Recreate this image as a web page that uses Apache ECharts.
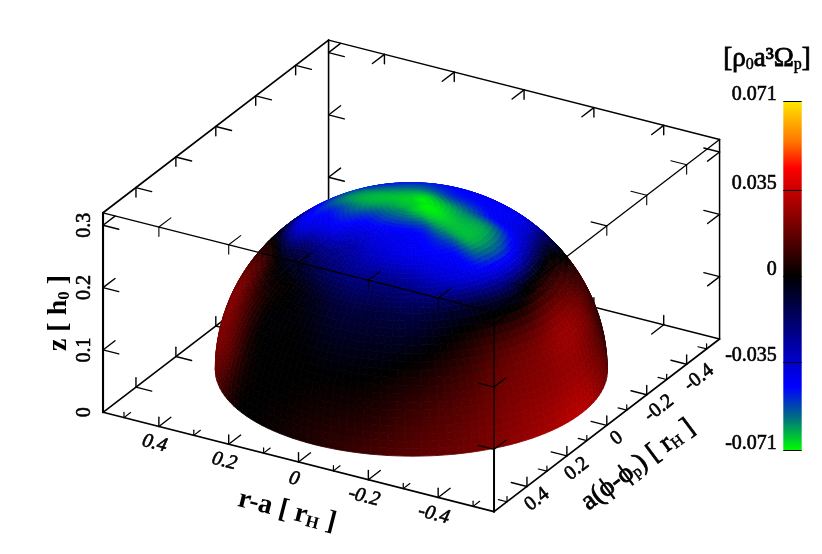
<!DOCTYPE html>
<html>
<head>
<meta charset="utf-8">
<script src="https://cdn.jsdelivr.net/npm/echarts@6/dist/echarts.min.js"></script>
<style>
html, body { margin: 0; padding: 0; background: #fff; }
#chart { width: 822px; height: 554px; }
</style>
</head>
<body>
<div id="chart"></div>
<script>
// tick labels
const xTicks = [0.4, 0.2, 0, -0.2, -0.4]
const xMinorTicks = [0.5, 0.3, 0.1, -0.1, -0.3, -0.5]
const yTicks = [0.4, 0.2, 0, -0.2, -0.4]
const yMinorTicks = [0.5, 0.3, 0.1, -0.1, -0.3, -0.5]
const zTicks = [0, 0.1, 0.2, 0.3]
const colorTicks = [-0.071, -0.035, 0, 0.035, 0.071]

// colour scale
const paletteValues = [-0.071, -0.0575, -0.045, -0.035, 0, 0.035, 0.044, 0.055, 0.071]
const paletteColors = [[0, 255, 0], [0, 110, 130], [0, 0, 255], [0, 0, 205], [0, 0, 0], [200, 0, 0], [255, 0, 0], [255, 120, 0], [255, 230, 0]]

const domeLat = [0, 15, 30, 45, 55, 65, 75, 85, 90]
const lat0 = [0.0155, 0.024, 0.032, 0.029, 0.024, 0.019, 0.0155, 0.0105, 0.006, 0.002, 0, 0.01, 0.019, 0.02, 0.02, 0.02, 0.02, 0.02, 0.02, 0.02, 0.02, 0.015, 0.015, 0.012]
const lat15 = [0.009, 0.019, 0.026, 0.024, 0.021, 0.015, 0.0095, 0.004, 0.002, 0, 0.002, 0.017, 0.022, 0.02, 0.02, 0.02, 0.02, 0.02, 0.02, 0.02, 0.01, 0.01, 0.01, 0.01]
const lat30 = [0.012, 0.021, 0.025, 0.019, 0.014, 0.006, 0, -0.0026, -0.0026, 0, 0, 0.012, 0.021, 0.017, 0.01, 0.01, 0, 0, 0, 0, 0, 0.005, 0.005, 0.009]
const lat45 = [-0.003, 0.002, 0, -0.007, -0.007, -0.0085, -0.012, -0.0105, -0.0105, -0.005, -0.001, 0, 0.005, -0.002, -0.012, -0.02, -0.03, -0.03, -0.03, -0.03, -0.03, -0.03, -0.034, -0.017]
const lat55 = [-0.035, -0.036, -0.043, -0.042, -0.038, -0.033, -0.026, -0.022, -0.022, -0.019, -0.0155, -0.017, -0.031, -0.04, -0.041, -0.047, -0.05, -0.05, -0.05, -0.05, -0.05, -0.042, -0.042, -0.041]
const lat65 = [-0.045, -0.058, -0.0625, -0.061, -0.047, -0.044, -0.041, -0.038, -0.034, -0.03, -0.034, -0.041, -0.044, -0.048, -0.057, -0.058, -0.052, -0.048, -0.048, -0.048, -0.046, -0.044, -0.044, -0.044]
const lat75 = [-0.058, -0.062, -0.065, -0.065, -0.059, -0.049, -0.045, -0.044, -0.044, -0.045, -0.046, -0.05, -0.056, -0.061, -0.064, -0.063, -0.059, -0.056, -0.055, -0.054, -0.052, -0.05, -0.05, -0.053]
const lat85 = [-0.069, -0.07, -0.07, -0.069, -0.067, -0.065, -0.063, -0.061, -0.06, -0.06, -0.061, -0.062, -0.063, -0.064, -0.065, -0.066, -0.066, -0.066, -0.066, -0.067, -0.068, -0.069, -0.069, -0.069]
const latPole = [-0.066, -0.066, -0.066, -0.066, -0.066, -0.066, -0.066, -0.066, -0.066, -0.066, -0.066, -0.066, -0.066, -0.066, -0.066, -0.066, -0.066, -0.066, -0.066, -0.066, -0.066, -0.066, -0.066, -0.066]
const domeRows = [lat0, lat15, lat30, lat45, lat55, lat65, lat75, lat85, latPole]

// box and projection
const xMax = 0.56, yMax = 0.565, zMax = 0.32
const center = [411.3, 375.65]
const xVec = [-349.1, -88.75]
const yVec = [-199.6, 152.8]
const zVec = -623.4
const domeRadius = 0.4875, domeHeight = 0.267, domeBase = 0.009
const viewAz = 210.15
const viewNormal = [166.4, 86.1]
const SUB = 6

function project(x, y, z) {
    return [
        center[0] + x * xVec[0] + y * yVec[0],
        center[1] + x * xVec[1] + y * yVec[1] + z * zVec
    ]
}
function valueColor(v) {
    let i = 0
    while (i < paletteValues.length - 2 && v > paletteValues[i + 1]) i++
    let f = (v - paletteValues[i]) / (paletteValues[i + 1] - paletteValues[i])
    f = Math.max(0, Math.min(1, f))
    const a = paletteColors[i], b = paletteColors[i + 1]
    return 'rgb(' + [0, 1, 2].map((k) => Math.round(a[k] + (b[k] - a[k]) * f)).join(',') + ')'
}
function domePoint(lat, t) {
    const la = lat * Math.PI / 180
    const L = (viewAz - t) * Math.PI / 180
    const r = domeRadius * Math.cos(la)
    return project(r * Math.cos(L), r * Math.sin(L), domeBase + domeHeight * Math.sin(la))
}
function facing(lat, t) {
    const la = lat * Math.PI / 180
    return viewNormal[0] * Math.sin(t * Math.PI / 180) * Math.cos(la) + viewNormal[1] * Math.sin(la) > -1
}
function cubic(a, b, c, d, f) {
    return b + 0.5 * f * (c - a + f * (2 * a - 5 * b + 4 * c - d + f * (3 * (b - c) + d - a)))
}
// smooth shading between the read values, like the interpolated surface of the original
function shade(r, c, u, w) {
    const col = (k) => {
        const i = ((c + k) % 24 + 24) % 24
        const at = (q) => domeRows[Math.max(0, Math.min(domeRows.length - 1, r + q))][i]
        return cubic(at(-1), at(0), at(1), at(2), u)
    }
    return cubic(col(-1), col(0), col(1), col(2), w)
}

// dome cells: [row, column]
function renderDome(params, api) {
    const r = api.value(0), c = api.value(1)
    const lat1 = domeLat[r], lat2 = domeLat[r + 1]
    const t1 = c * 15
    const children = []
    for (let i = 0; i < SUB; i++) {
        for (let j = 0; j < SUB; j++) {
            const a1 = lat1 + (lat2 - lat1) * i / SUB, a2 = lat1 + (lat2 - lat1) * (i + 1) / SUB
            const b1 = t1 + 15 * j / SUB, b2 = t1 + 15 * (j + 1) / SUB
            if (!facing(a1, b1) && !facing(a1, b2) && !facing(a2, b1) && !facing(a2, b2)) continue
            const col = valueColor(shade(r, c, (i + 0.5) / SUB, (j + 0.5) / SUB))
            children.push({
                type: 'polygon',
                shape: { points: [domePoint(a1, b1), domePoint(a1, b2), domePoint(a2, b2), domePoint(a2, b1)].map((p) => api.coord(p)) },
                style: { fill: col, stroke: col, lineWidth: 0.8 }
            })
        }
    }
    return { type: 'group', children: children }
}

function renderSegment(params, api) {
    const p = api.coord(project(api.value(0), api.value(1), api.value(2)))
    const q = api.coord(project(api.value(3), api.value(4), api.value(5)))
    return {
        type: 'line',
        shape: { x1: p[0], y1: p[1], x2: q[0], y2: q[1] },
        style: { stroke: '#000', lineWidth: api.value(6), lineCap: 'round' }
    }
}

// arms of the ticks point into the box
function tickSegs(axis, vals, a, b, dirs, scale, width) {
    const out = []
    const arm = { x: 0.045, y: 0.06, z: 0.015 }
    vals.forEach((v) => {
        const o = axis === 'x' ? [v, a, b] : axis === 'y' ? [a, v, b] : [a, b, v]
        dirs.forEach((d) => {
            const e = o.slice()
            const k = 'xyz'.indexOf(d[1])
            e[k] += (d[0] === '+' ? 1 : -1) * arm[d[1]] * scale
            out.push([o[0], o[1], o[2], e[0], e[1], e[2], width])
        })
    })
    return out
}
function edge(a, b, width) {
    return [a[0], a[1], a[2], b[0], b[1], b[2], width]
}

const backSegs = [
    edge([xMax, yMax, 0], [xMax, -yMax, 0], 1.6),
    edge([xMax, -yMax, 0], [-xMax, -yMax, 0], 1.5),
    edge([xMax, -yMax, 0], [xMax, -yMax, zMax], 1.6),
    edge([xMax, -yMax, zMax], [xMax, yMax, zMax], 1.7),
    edge([xMax, -yMax, zMax], [-xMax, -yMax, zMax], 1.5),
    edge([-xMax, -yMax, 0], [-xMax, -yMax, zMax], 1.5),
    edge([xMax, yMax, 0], [xMax, yMax, zMax], 2.1),
    ...tickSegs('x', xTicks, -yMax, 0, ['+y', '+z'], 1, 1.4),
    ...tickSegs('x', xTicks, -yMax, zMax, ['+y', '-z'], 1, 1.4),
    ...tickSegs('y', yTicks, xMax, 0, ['-x', '+z'], 1, 1.4),
    ...tickSegs('y', yTicks, xMax, zMax, ['-x', '-z'], 1, 1.4),
    ...tickSegs('z', zTicks.slice(1), xMax, -yMax, ['-x', '-y'], 1, 1.4),
    ...tickSegs('z', zTicks.slice(1), xMax, yMax, ['-x', '-y'], 1, 1.4),
    ...tickSegs('z', zTicks.slice(1), -xMax, -yMax, ['+x', '+y'], 1, 1.4)
]
const frontSegs = [
    edge([xMax, yMax, 0], [-xMax, yMax, 0], 1.7),
    edge([-xMax, yMax, 0], [-xMax, -yMax, 0], 1.7),
    edge([-xMax, yMax, 0], [-xMax, yMax, 0.1], 2),
    edge([-xMax, yMax, 0.1], [-xMax, yMax, zMax], 1.2),
    edge([xMax, yMax, zMax], [-xMax, yMax, zMax], 1.3),
    edge([-xMax, yMax, zMax], [-xMax, -yMax, zMax], 1.3),
    ...tickSegs('x', xTicks, yMax, 0, ['-y', '+z'], 1, 1.4),
    ...tickSegs('x', xMinorTicks, yMax, 0, ['-y', '+z'], 0.55, 1.2),
    ...tickSegs('x', xTicks, yMax, zMax, ['-y', '-z'], 1, 1.1),
    ...tickSegs('y', yTicks, -xMax, 0, ['+x', '+z'], 1, 1.4),
    ...tickSegs('y', yMinorTicks, -xMax, 0, ['+x', '+z'], 0.55, 1.2),
    ...tickSegs('y', yTicks, -xMax, zMax, ['+x', '-z'], 1, 1.1),
    ...tickSegs('z', zTicks.slice(1), -xMax, yMax, ['+x', '-y'], 1, 1.2)
]

const domeCells = []
domeRows.slice(0, -1).forEach((row, r) => row.forEach((v, c) => domeCells.push([r, c])))

function tickText(list, kind) {
    return list.map((v) => [v, kind])
}
function renderTickLabel(params, api) {
    const v = api.value(0), kind = api.value(1)
    let p, rot, off, font = '20px "Liberation Serif"'
    if (kind === 0) { p = project(v, yMax, 0); rot = -14.3; off = [-4.3, 17]; font = 'italic 20px "Liberation Serif"' }
    if (kind === 1) { p = project(-xMax, v, 0); rot = 37.4; off = v < 0 ? [12.3, 13.5] : [10, 13] }
    if (kind === 2) { p = project(xMax, yMax, v); rot = 90; off = [-18, 0] }
    const c = api.coord(p)
    return {
        type: 'text',
        x: c[0] + off[0],
        y: c[1] + off[1],
        rotation: rot * Math.PI / 180,
        style: {
            x: 0, y: 0,
            text: String(v),
            fill: '#000',
            stroke: '#000',
            lineWidth: 0.6,
            font: font,
            align: 'center',
            verticalAlign: 'middle'
        }
    }
}
function renderColorLabel(params, api) {
    const c = api.coord([0, api.value(1)])
    return {
        type: 'text',
        x: c[0] - 6.5,
        y: c[1] - 6.5,
        style: {
            x: 0, y: 0,
            text: String(api.value(1)),
            fill: '#000',
            stroke: '#000',
            lineWidth: 0.6,
            font: '20px "Liberation Serif"',
            align: 'right',
            verticalAlign: 'middle'
        }
    }
}

const titleRich = {
    b: { fontFamily: 'Liberation Serif', fontWeight: 'bold', fontSize: 28, fill: '#000' },
    s: { fontFamily: 'Liberation Serif', fontWeight: 'bold', fontSize: 17, verticalAlign: 'bottom', fill: '#000' },
    n: { fontFamily: 'Liberation Serif', fontSize: 27, fill: '#000', stroke: '#000', lineWidth: 0.8 },
    m: { fontFamily: 'Liberation Serif', fontSize: 16, verticalAlign: 'bottom', fill: '#000', stroke: '#000', lineWidth: 0.5 }
}
function axisTitle(x, y, deg, text) {
    return {
        type: 'text',
        x: x, y: y,
        rotation: deg * Math.PI / 180,
        z: 20,
        style: { x: 0, y: 0, text: text, rich: titleRich, align: 'center', verticalAlign: 'middle' }
    }
}

const gradientStops = paletteValues.map((v, i) => ({
    offset: (v - paletteValues[0]) / (paletteValues[paletteValues.length - 1] - paletteValues[0]),
    color: 'rgb(' + paletteColors[i].join(',') + ')'
}))

const chart = echarts.init(document.getElementById('chart'))
chart.setOption({
    animation: false,
    backgroundColor: '#fff',
    grid: [
        { left: 0, top: 0, width: 822, height: 554 },
        { left: 783.3, top: 101.7, width: 18.4, height: 349 }
    ],
    xAxis: [
        { type: 'value', gridIndex: 0, min: 0, max: 822, show: false },
        { type: 'value', gridIndex: 1, min: 0, max: 1, show: false }
    ],
    yAxis: [
        { type: 'value', gridIndex: 0, min: 0, max: 554, inverse: true, show: false },
        {
            type: 'value',
            gridIndex: 1,
            min: -0.071,
            max: 0.071,
            z: 5,
            axisLine: { show: false },
            splitLine: { show: false },
            axisTick: { show: true, inside: true, length: 18.4, customValues: colorTicks, lineStyle: { color: '#000', width: 1 } },
            axisLabel: { show: false }
        }
    ],
    graphic: {
        elements: [
            axisTitle(287, 511, -14.3, '{b|r-a [ r}{s|H}{b| ]}'),
            axisTitle(638, 465, 36.8, '{n|a(ϕ-ϕ}{m|p}{n|) [ r}{m|H}{n| ]}'),
            axisTitle(59, 313, 90, '{b|z [ h}{s|0}{b| ]}'),
            axisTitle(767, 59, 0, '{n|[ρ}{m|0}{n|a³Ω}{m|p}{n|]}')
        ]
    },
    series: [
        { type: 'custom', name: 'back', xAxisIndex: 0, yAxisIndex: 0, z: 1, silent: true, clip: false, data: backSegs, renderItem: renderSegment },
        { type: 'custom', name: 'dome', xAxisIndex: 0, yAxisIndex: 0, z: 2, silent: true, clip: false, data: domeCells, renderItem: renderDome },
        { type: 'custom', name: 'front', xAxisIndex: 0, yAxisIndex: 0, z: 3, silent: true, clip: false, data: frontSegs, renderItem: renderSegment },
        {
            type: 'custom',
            name: 'tickLabels',
            xAxisIndex: 0,
            yAxisIndex: 0,
            z: 4,
            silent: true,
            clip: false,
            data: [...tickText(xTicks, 0), ...tickText(yTicks, 1), ...tickText(zTicks, 2)],
            renderItem: renderTickLabel
        },
        {
            type: 'custom',
            name: 'colorbar',
            xAxisIndex: 1,
            yAxisIndex: 1,
            z: 2,
            silent: true,
            data: [[0, paletteValues[0], paletteValues[paletteValues.length - 1]]],
            renderItem: (params, api) => {
                const a = api.coord([0, api.value(2)])
                const b = api.coord([1, api.value(1)])
                return {
                    type: 'rect',
                    shape: { x: a[0], y: a[1], width: b[0] - a[0], height: b[1] - a[1] },
                    style: { fill: new echarts.graphic.LinearGradient(0, 1, 0, 0, gradientStops) }
                }
            }
        },
        {
            type: 'custom',
            name: 'colorLabels',
            xAxisIndex: 1,
            yAxisIndex: 1,
            z: 4,
            silent: true,
            clip: false,
            data: colorTicks.map((v) => [0, v]),
            renderItem: renderColorLabel
        }
    ]
})
</script>
</body>
</html>
